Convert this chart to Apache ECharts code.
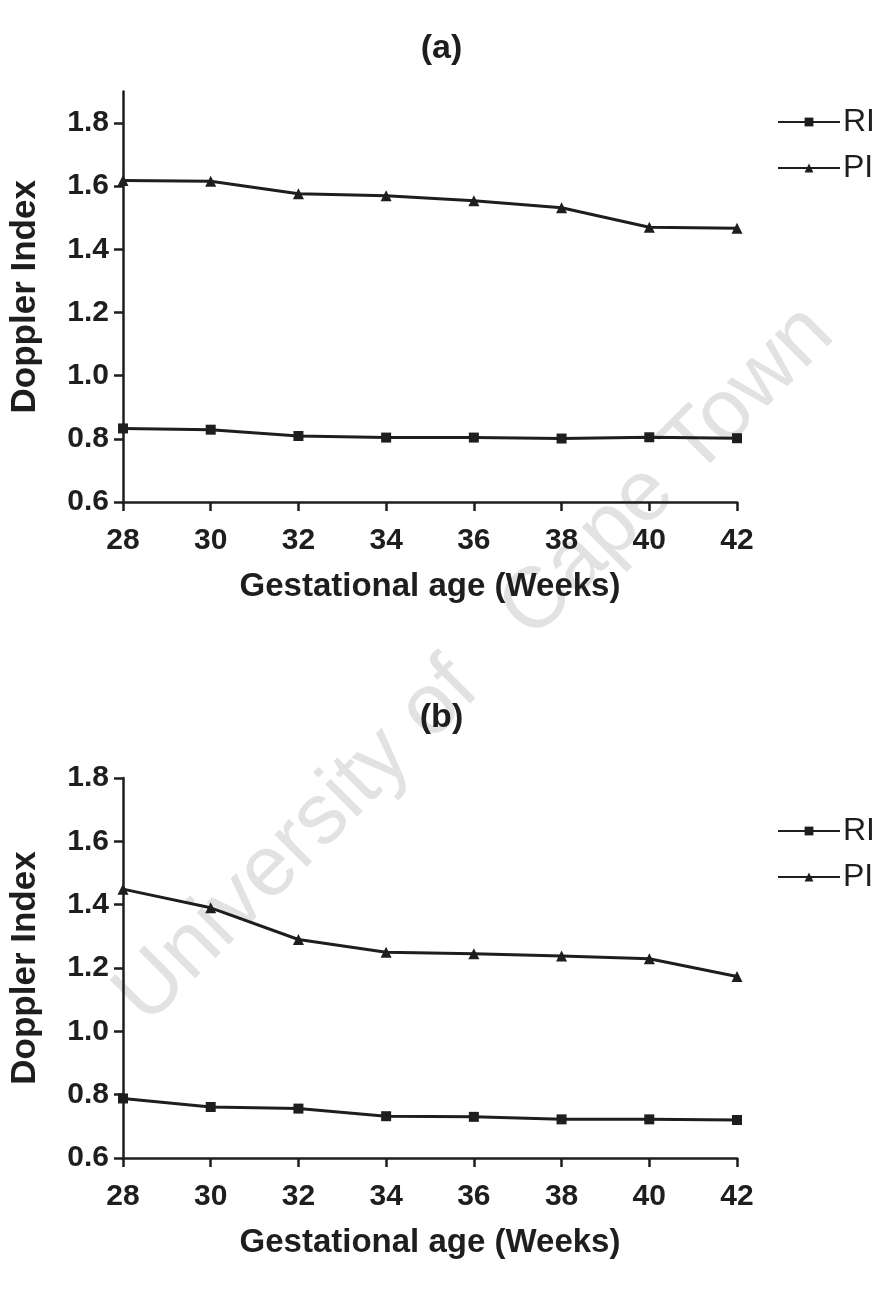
<!DOCTYPE html>
<html>
<head>
<meta charset="utf-8">
<script src="https://cdn.jsdelivr.net/npm/echarts@6/dist/echarts.min.js"></script>
<style>
  html, body { margin: 0; padding: 0; background: #fff; }
  #main { width: 883px; height: 1310px; }
</style>
</head>
<body>
<div id="main"></div>
<script>
var weeks = [28, 30, 32, 34, 36, 38, 40, 42];
var riA = [0.833, 0.829, 0.809, 0.804, 0.804, 0.801, 0.805, 0.802];
var piA = [1.618, 1.616, 1.576, 1.570, 1.554, 1.532, 1.470, 1.467];
var riB = [0.788, 0.761, 0.756, 0.732, 0.730, 0.722, 0.722, 0.720];
var piB = [1.449, 1.390, 1.290, 1.250, 1.245, 1.238, 1.229, 1.173];
var yTicks = [0.6, 0.8, 1.0, 1.2, 1.4, 1.6, 1.8];

var ink = '#1e1e1e';
var font = 'Liberation Sans, Arial, sans-serif';

function pairs(ys) {
  return weeks.map(function (w, i) { return [w, ys[i]]; });
}

function xAxisCfg(gi) {
  return {
    type: 'value', gridIndex: gi, min: 28, max: 42, interval: 2,
    name: 'Gestational age (Weeks)', nameLocation: 'middle', nameGap: 68,
    nameTextStyle: { color: ink, fontSize: 33, fontWeight: 'bold', fontFamily: font },
    axisLine: { lineStyle: { color: ink, width: 2.5 } },
    axisTick: { length: 9, lineStyle: { color: ink, width: 2.5 } },
    axisLabel: { color: ink, fontSize: 30, fontWeight: 'bold', margin: 24, fontFamily: font },
    splitLine: { show: false }
  };
}

function yAxisCfg(gi, max) {
  return {
    type: 'value', gridIndex: gi, min: 0.6, max: max, interval: 0.2,
    name: 'Doppler Index', nameLocation: 'middle', nameGap: 80, nameRotate: 90,
    nameTextStyle: { color: ink, fontSize: 35, fontWeight: 'bold', fontFamily: font },
    axisLine: { show: true, lineStyle: { color: ink, width: 2.5 } },
    axisTick: { show: true, length: 9, customValues: yTicks, lineStyle: { color: ink, width: 2.5 } },
    axisLabel: {
      color: ink, fontSize: 30, fontWeight: 'bold', margin: 14, fontFamily: font, customValues: yTicks,
      formatter: function (v) { return v.toFixed(1); }
    },
    splitLine: { show: false }
  };
}

function lineSeries(name, sym, size, data, idx) {
  return {
    name: name, type: 'line', xAxisIndex: idx, yAxisIndex: idx,
    data: pairs(data), symbol: sym, symbolSize: size,
    lineStyle: { color: ink, width: 3 },
    itemStyle: { color: ink },
    z: 3
  };
}

function legendCfg(top, idx) {
  return {
    left: 772, top: top, orient: 'vertical', itemGap: 14,
    itemWidth: 62, itemHeight: 11,
    textStyle: { color: ink, fontSize: 32, fontFamily: font, padding: [0, 0, 0, -2] },
    data: idx === 0 ? ['RI', 'PI'] : ['RI ', 'PI ']
  };
}

var chart = echarts.init(document.getElementById('main'));
chart.setOption({
  backgroundColor: '#fff',
  animation: false,
  title: [
    { text: '(a)', left: 'center', top: 27, textStyle: { color: ink, fontSize: 34, fontWeight: 'bold', fontFamily: font } },
    { text: '(b)', left: 'center', top: 696, textStyle: { color: ink, fontSize: 34, fontWeight: 'bold', fontFamily: font } }
  ],
  graphic: [{
    type: 'text', rotation: Math.PI / 4, originX: 475, originY: 665,
    style: { text: 'University of   Cape Town', x: 475, y: 665, fill: '#e2e2e2', fontSize: 86, fontFamily: font, align: 'center', verticalAlign: 'middle' },
    z: -1
  }],
  legend: [legendCfg(101, 0), legendCfg(810, 1)],
  grid: [
    { left: 122, width: 615, top: 91.5, height: 410.5 },
    { left: 122, width: 615, top: 778, height: 380 }
  ],
  xAxis: [xAxisCfg(0), xAxisCfg(1)],
  yAxis: [yAxisCfg(0, 1.9), yAxisCfg(1, 1.8)],
  series: [
    lineSeries('RI', 'rect', 10, riA, 0),
    lineSeries('PI', 'triangle', 11, piA, 0),
    lineSeries('RI ', 'rect', 10, riB, 1),
    lineSeries('PI ', 'triangle', 11, piB, 1)
  ]
});
</script>
</body>
</html>
